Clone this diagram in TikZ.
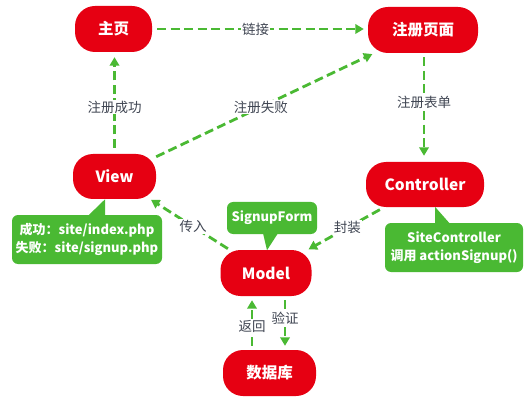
\documentclass[tikz,border=0pt]{standalone}
\usepackage{fontspec}
\setmainfont{Noto Sans CJK SC}
\usetikzlibrary{arrows.meta,calc}
\definecolor{nred}{HTML}{E60012}
\definecolor{ngreen}{HTML}{4AB933}
\definecolor{lgray}{HTML}{3F4552}
\begin{document}
\begin{tikzpicture}[x=1pt,y=-1pt,
  pill/.style={fill=nred, rounded corners=20pt, text=white, inner sep=0pt,
    font=\fontsize{15.5}{18}\selectfont\bfseries},
  note/.style={fill=ngreen, rounded corners=6pt, text=white, inner sep=0pt,
    align=center, font=\fontsize{13}{18}\selectfont\bfseries},
  arr/.style={draw=ngreen, line width=2.8pt, dash pattern=on 9pt off 4.5pt,
    -{Triangle[length=8.5pt,width=9.5pt]}},
  lbl/.style={fill=white, text=lgray, inner sep=1pt,
    font=\fontsize{13.5}{16}\selectfont}]
\useasboundingbox (0,0) rectangle (529,403);
% main nodes
\node[pill, minimum width=77pt, minimum height=46pt] (home) at (113.5,29) {主页};
\node[pill, minimum width=110pt, minimum height=46pt] (reg) at (423,30) {注册页面};
\node[pill, minimum width=83pt, minimum height=45pt] (view) at (114.5,176.5) {View};
\node[pill, minimum width=118pt, minimum height=45pt] (ctrl) at (425,184.5) {Controller};
\node[pill, minimum width=91pt, minimum height=46pt] (model) at (266,273) {Model};
\node[pill, minimum width=93pt, minimum height=46pt] (db) at (269.5,373) {数据库};
% callouts
\node[note, minimum width=150pt, minimum height=49pt] (vnote) at (87,239.5)
  {成功：site/index.php\\失败：site/signup.php};
\fill[ngreen] ($(vnote.north)+(1,1)$) -- ($(vnote.north)+(18,1)$) -- ($(vnote.north)+(18,-15.5)$) -- cycle;
\node[note, minimum width=138pt, minimum height=49pt] (cnote) at (454,247.5)
  {SiteController\\调用 actionSignup()};
\fill[ngreen] ($(cnote.north)+(-19,1)$) -- ($(cnote.north)+(-4,1)$) -- ($(cnote.north)+(-19,-16)$) -- cycle;
\node[note, minimum width=90pt, minimum height=32pt] (snote) at (272,218) {SignupForm};
\fill[ngreen] ($(snote.south)+(-9,-1)$) -- ($(snote.south)+(6,-1)$) -- ($(snote.south)+(-5,16)$) -- cycle;
% connectors
\draw[arr, shorten <=5pt, shorten >=4pt] (home.east) -- node[lbl, pos=0.48]{链接} (home.east -| reg.west);
\draw[arr, shorten <=6pt, shorten >=5pt] (view.north) -- node[lbl, pos=0.46]{注册成功} (view.north |- home.south);
\draw[arr, shorten >=2pt] (view) -- node[lbl, pos=0.48]{注册失败} (reg);
\draw[arr, shorten <=4pt, shorten >=6pt] ([xshift=1pt]reg.south) -- node[lbl, pos=0.45]{注册表单} ([xshift=1pt]reg.south |- ctrl.north);
\draw[arr, shorten <=5pt, shorten >=1pt] (ctrl) -- node[lbl, pos=0.48]{封装} (model);
\draw[arr, shorten <=2pt, shorten >=1pt] (model) -- node[lbl, pos=0.46]{传入} (view);
\coordinate (m1) at ($(model.south)+(19,0)$);
\coordinate (m2) at ($(model.south)+(-14,0)$);
\draw[arr, shorten <=4pt, shorten >=4pt] (m1) -- node[lbl, pos=0.41]{验证} (m1 |- db.north);
\draw[arr, shorten <=4pt, shorten >=4pt] (m2 |- db.north) -- node[lbl, pos=0.43]{返回} (m2);
\end{tikzpicture}
\end{document}
